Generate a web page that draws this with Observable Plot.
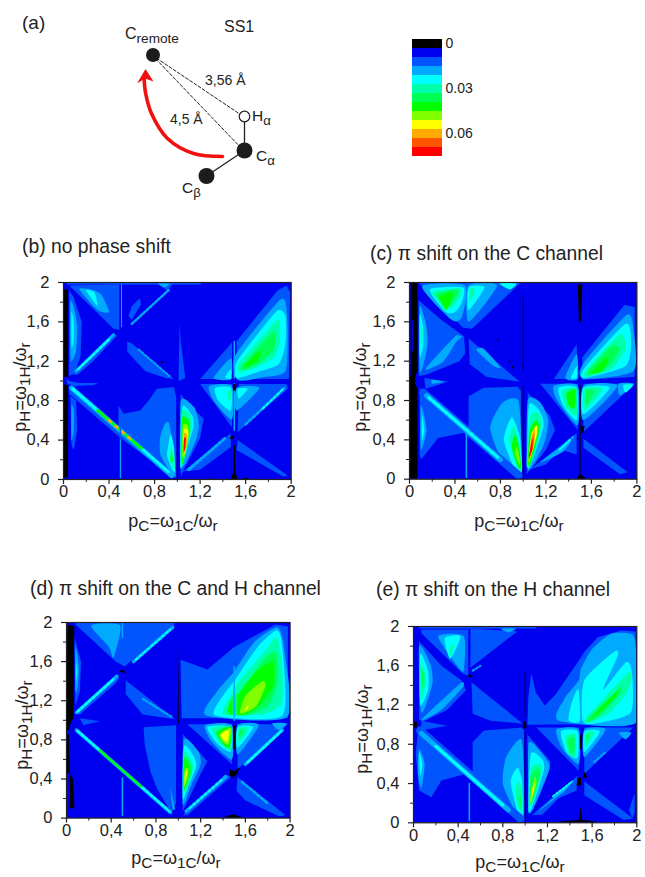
<!DOCTYPE html>
<html><head><meta charset="utf-8">
<script src="https://cdn.jsdelivr.net/npm/d3@7"></script>
<script src="https://cdn.jsdelivr.net/npm/@observablehq/plot@0.6"></script>
<style>
html,body{margin:0;padding:0;background:#fff}
#page{position:relative;width:645px;height:877px;overflow:hidden;font-family:"Liberation Sans",Arial,sans-serif;color:#222}
#page svg{position:absolute;background:transparent;overflow:visible}
#page svg text{font-size:16.5px}
#page svg.legend text{font-size:14px}
.t{position:absolute;white-space:nowrap;line-height:1}
.t sub{font-size:.85em;vertical-align:baseline;position:relative;top:.28em;line-height:0}
</style></head><body><div id="page"></div>
<script>
const palette=["#000000","#0000f0","#0055ff","#00aaff","#00ffff","#00ffaa","#00ff55","#00ff00","#80ff00","#ffff00","#ffaa00","#ff5500","#ff0000"];
const legendValues=[0,0.006,0.012,0.018,0.024,0.03,0.036,0.042,0.048,0.054,0.06,0.066,0.072];
const legendLabels=[0,0.03,0.06];
const majorTicks=[0,0.4,0.8,1.2,1.6,2];
const minorTicks=[0.2,0.6,1,1.4,1.8];

/* contour bands: [level, [x,y, x,y, ...]] in (pC, pH) */
const bandsB=[
[2,[.03,2,1.22,2,1.2,1.98,.03,1.98]],
[2,[.05,1.97,.44,1.53,.49,1.52,.49,1.98]],
[3,[.14,1.93,.24,1.93,.33,1.88,.4,1.7,.3,1.72]],
[4,[.2,1.92,.27,1.9,.3,1.76]],
[2,[.82,1.99,.97,1.99,.91,1.92]],
[3,[.83,1.99,.93,1.99,.89,1.95]],
[2,[.57,1.66,.6,1.76,.67,1.84,.68,1.78,.6,1.62]],
[2,[.05,1.92,.09,1.85,.16,1.6,.15,1.25,.1,1.08,.05,1.05]],
[3,[.06,1.8,.09,1.75,.12,1.55,.11,1.3,.07,1.2,.06,1.3]],
[4,[.07,1.7,.09,1.6,.09,1.4,.07,1.35]],
[2,[.07,1.07,.44,1.48,.47,1.46,.26,1.2,.12,1.06]],
[2,[.56,1.4,.6,1.38,.97,1.02,.9,1.03,.72,1.1,.62,1.22,.56,1.3]],
[2,[.02,1.02,.05,1,.13,.98,.3,.98,.27,.96,.1,.95,.04,.97]],
[2,[.05,.95,.5,.5,.48,.5,.484,.75,.527,.667,.674,.7,.76,.82,.82,.92,.97,.94,.99,.83,.99,.02,.97,.02,.5,.42,.05,.87]],
[2,[.06,.85,.11,.8,.12,.5,.09,.3,.07,.35]],
[3,[.07,.75,.09,.7,.09,.5,.07,.4]],
[3,[.85,.43,.89,.56,.93,.56,.98,.16,.98,.03,.93,.09,.85,.26]],
[4,[.91,.26,.94,.46,.97,.33,.98,.09,.96,.09,.92,.2]],
[5,[.93,.2,.945,.35,.965,.25,.975,.12,.96,.12]],
[7,[.94,.2,.95,.28,.965,.18]],
[2,[1.03,.87,1.1,.75,1.23,.62,1.2,.42,1.1,.2,1.03,.03,1.02,.3]],
[3,[1.03,.8,1.15,.73,1.19,.56,1.16,.39,1.04,.13]],
[4,[1.05,.75,1.13,.65,1.14,.53,1.08,.29,1.03,.11,1.03,.5]],
[5,[1.04,.68,1.1,.68,1.13,.58,1.1,.38,1.03,.13]],
[7,[1.04,.62,1.1,.6,1.11,.5,1.08,.33,1.04,.16]],
[8,[1.05,.55,1.09,.55,1.1,.45,1.06,.22,1.045,.3]],
[9,[1.055,.5,1.09,.5,1.09,.42,1.05,.22]],
[10,[1.06,.47,1.085,.45,1.08,.35,1.05,.25]],
[12,[1.06,.42,1.075,.42,1.07,.32,1.055,.28]],
[2,[1.01,1,1.02,1.58,1.03,1.4,1.07,1.03]],
[2,[1.2,1.02,1.48,1.39,1.48,1.02]],
[3,[1.32,1.03,1.47,1.23,1.47,1.02]],
[4,[1.42,1.04,1.47,1.12,1.47,1.02]],
[2,[1.52,1.4,1.88,1.92,1.96,1.97,1.99,1.9,1.98,1.02,1.53,1.02]],
[3,[1.51,1.26,1.88,1.8,1.95,1.8,1.97,1.5,1.95,1.1,1.76,1.04,1.53,1.01]],
[4,[1.52,1.19,1.79,1.6,1.89,1.72,1.95,1.66,1.95,1.38,1.89,1.17,1.7,1.09,1.52,1.03]],
[5,[1.54,1.17,1.79,1.51,1.89,1.62,1.9,1.4,1.85,1.24,1.7,1.14,1.55,1.09]],
[6,[1.57,1.16,1.79,1.44,1.86,1.5,1.85,1.33,1.73,1.19,1.58,1.11]],
[7,[1.58,1.14,1.73,1.31,1.7,1.2]],
[2,[1.2,.97,1.48,.97,1.48,.53]],
[3,[1.28,.95,1.48,.95,1.48,.61,1.32,.8]],
[4,[1.33,.93,1.47,.93,1.47,.7,1.36,.8]],
[5,[1.44,.9,1.47,.9,1.47,.8,1.44,.83]],
[2,[1.54,.97,1.96,.97,1.97,.92,1.53,.48]],
[3,[1.52,.93,1.72,.93,1.52,.7]],
[4,[1.53,.92,1.62,.92,1.54,.82]],
[2,[1.05,.08,1.47,.47,1.47,.33,1.2,.1]],
[2,[1.53,.4,1.97,.04,1.93,.03,1.52,.3]],
];
const stripesB=[
[3,5,"",[.07,.93,.95,.04]],[4,3,"3 2.5",[.08,.92,.3,.7]],[7,3,"3 2.5",[.3,.7,.7,.3]],[10,2.5,"2.5 6",[.4,.6,.6,.4]],[4,3,"3 2.5",[.7,.3,.92,.08]],
[3,3,"",[.11,1.1,.44,1.47]],[4,2.5,"2.5 2.5",[.13,1.12,.4,1.42]],
[3,2,"2 2",[.66,1.32,.93,1.05]],[3,2.5,"2 2",[.6,1.58,.93,1.93]],
[2,1.5,"",[.5,.02,.5,.65]],[3,1,"",[.5,.02,.5,.4]],[3,1,"",[.51,1.55,.51,1.98]],
[3,3,"2.5 2.5",[1.1,.1,1.42,.42]],[3,2.5,"2.5 2.5",[1.6,.56,1.94,.93]],[4,2,"2.5 2.5",[1.75,.72,1.93,.92]],
[3,1.5,"",[1.5,.5,1.5,.97]],[3,1.5,"",[1.5,1.03,1.5,1.4]],
];
const blackB=[
[0,[0,.02,.04,.02,.04,.95,0,.97]],[0,[0,1.04,.04,1.04,.04,1.93,0,1.93]],
[0,[1.47,.0,1.49,.07,1.495,.35,1.505,.35,1.51,.07,1.53,0]],[0,[1.46,.41,1.5,.41,1.48,.46]],
[0,[1.27,0,1.32,0,1.29,.012]],[0,[1.56,0,1.65,0,1.6,.02]],[0,[.996,0,1.004,0,1.004,.7,.996,.7]],[0,[.85,1.2,.88,1.2,.87,1.18]],[0,[1.49,.9,1.51,.9,1.51,.97,1.49,.97]],
];

const bandsC=[
[2,[.08,2,.47,1.54,.55,1.53,.97,1.99,.97,2]],
[3,[.11,1.96,.37,1.62,.46,1.65,.49,1.97]],
[4,[.18,1.93,.32,1.7,.4,1.7,.46,1.8,.47,1.95]],
[5,[.2,1.9,.32,1.75,.38,1.75,.44,1.85,.45,1.94]],
[6,[.23,1.88,.31,1.78,.36,1.78,.42,1.87,.42,1.93]],
[7,[.26,1.85,.32,1.72,.36,1.8,.38,1.9]],
[3,[.52,1.97,.52,1.6,.77,1.97]],
[4,[.52,1.95,.52,1.72,.66,1.95]],
[5,[.53,1.93,.53,1.8,.58,1.93]],
[4,[.79,1.99,.94,1.99,.88,1.93]],
[2,[.08,1.82,.27,1.63,.48,1.45,.49,1.28,.44,1.2,.14,1.06,.08,1.05]],
[3,[.09,1.75,.14,1.6,.16,1.4,.13,1.2,.09,1.1]],
[3,[.14,1.12,.4,1.45,.43,1.44,.3,1.2]],
[4,[.09,1.68,.12,1.55,.12,1.35,.09,1.25]],
[5,[.1,1.6,.115,1.5,.1,1.35]],
[2,[.52,1.43,.97,.99,.68,1.04,.53,1.17]],
[3,[.59,1.31,.65,1.33,.8,1.14,.74,1.15]],
[2,[.13,1.03,.34,.99,.14,.92]],
[3,[.2,1.01,.3,.99,.2,.97]],
[2,[.09,.93,.48,.55,.47,.47,.25,.42,.17,.3,.1,.2,.09,.25]],
[3,[.1,.75,.15,.5,.1,.3]],
[4,[.11,.65,.13,.5,.11,.4]],
[2,[.52,.84,.65,.93,.95,.94,.98,.9,.98,.03,.52,.48]],
[3,[.71,.53,.82,.78,.96,.79,.99,.16,.97,.05,.8,.23]],
[4,[.83,.4,.9,.63,.97,.43,.99,.09,.93,.09]],
[5,[.88,.38,.91,.54,.96,.38,.985,.1,.96,.1]],
[7,[.9,.33,.93,.45,.965,.3,.98,.12,.95,.13]],
[8,[.93,.26,.945,.33,.97,.2,.97,.14]],
[2,[1.04,.88,1.23,.65,1.28,.5,1.2,.3,1.03,.05]],
[3,[1.04,.8,1.15,.78,1.22,.6,1.18,.35,1.04,.1]],
[4,[1.05,.75,1.14,.7,1.18,.55,1.1,.25,1.04,.12]],
[5,[1.06,.62,1.13,.68,1.16,.55,1.08,.2,1.03,.14]],
[7,[1.06,.5,1.12,.6,1.14,.5,1.07,.18,1.04,.15]],
[9,[1.07,.45,1.12,.55,1.12,.45,1.05,.17]],
[10,[1.07,.4,1.1,.52,1.1,.4,1.05,.18]],
[11,[1.07,.35,1.09,.47,1.09,.35,1.05,.2]],
[12,[1.06,.3,1.08,.42,1.08,.3,1.05,.22]],
[2,[1.52,1.24,1.89,1.77,1.98,1.75,1.98,1.04,1.52,1.01]],
[3,[1.53,1.18,1.91,1.67,1.97,1.52,1.97,1.1,1.53,1.02]],
[4,[1.54,1.13,1.9,1.58,1.95,1.4,1.9,1.15,1.54,1.03]],
[5,[1.55,1.1,1.85,1.47,1.9,1.32,1.78,1.12,1.56,1.04]],
[6,[1.57,1.1,1.77,1.35,1.85,1.33,1.75,1.15,1.58,1.06]],
[7,[1.59,1.08,1.75,1.25,1.7,1.1]],
[2,[1.27,1.02,1.47,1.37,1.48,1.02]],
[3,[1.37,1.03,1.47,1.27,1.48,1.02]],
[4,[1.42,1.03,1.47,1.15,1.47,1.03]],
[2,[1.15,.97,1.48,.97,1.48,.5]],
[3,[1.27,.95,1.48,.95,1.48,.55,1.3,.8]],
[4,[1.31,.93,1.47,.93,1.47,.6,1.35,.75]],
[5,[1.34,.9,1.47,.92,1.47,.65,1.38,.72]],
[7,[1.38,.87,1.46,.91,1.45,.72,1.4,.75]],
[2,[1.53,.97,1.98,.97,1.53,.48]],
[3,[1.53,.95,1.83,.95,1.53,.6]],
[4,[1.53,.93,1.76,.93,1.53,.66]],
[5,[1.54,.92,1.7,.92,1.54,.7]],
[6,[1.55,.9,1.63,.9,1.55,.75]],
[3,[1.84,.97,1.97,.97,1.85,.85]],
[4,[1.88,.96,1.97,.96,1.9,.88]],
[2,[1.06,.1,1.47,.47,1.47,.25,1.33,.3,1.2,.15]],
[3,[1.15,.17,1.42,.4,1.35,.28]],
[2,[1.53,.41,1.92,.07,1.85,.05,1.53,.32]],
];
const stripesC=[
[2,8,"",[.12,.88,.96,.04]],[3,5,"",[.15,.85,.8,.2]],[4,3,"3 2.5",[.17,.83,.78,.22]],
[3,1.5,"",[.5,.02,.5,.48]],[3,2,"2 2",[1.3,.28,1.44,.43]],[4,2,"2 2",[1.32,.3,1.42,.41]],
[3,2,"2 2",[.45,1.45,.27,1.27]],
];
const blackC=[
[0,[0,0,.07,0,.07,.92,.05,.97,.05,1.05,.07,1.1,.07,2,.01,2,.01,1.05,0,1.03]],
[0,[.996,.03,1.004,.03,1.004,.95,.996,.95]],[0,[.996,1.1,1.004,1.1,1.004,1.85,.996,1.85]],
[0,[1.47,0,1.495,.05,1.495,.95,1.505,.95,1.505,.05,1.56,0]],
[0,[1.49,1.6,1.51,1.6,1.52,1.98,1.48,1.98]],[0,[1.51,.47,1.53,.47,1.54,.54,1.51,.54]],
[0,[.87,1.2,.89,1.2,.88,1.17]],[0,[.77,1.42,.79,1.42,.78,1.4]],[0,[.9,1.15,.92,1.15,.91,1.12]],[0,[1.47,.42,1.49,.42,1.48,.4]],
];
const slitC=[[1,[.02,1.3,.03,1.3,.03,1.62,.02,1.62]]];

const bandsD=[
[2,[.08,2,.08,1.98,.44,1.6,.52,1.55,.96,1.97,.97,2]],
[3,[.22,1.97,.38,1.75,.42,1.64,.48,1.97]],
[2,[.07,1.85,.13,1.6,.12,1.3,.08,1.15]],
[3,[.08,1.75,.11,1.55,.1,1.35,.08,1.3]],
[4,[.085,1.6,.095,1.5,.085,1.4]],
[2,[.07,1.07,.45,1.47,.47,1.43,.44,1.38,.12,1.06]],
[2,[.53,1.41,.97,1.01,.68,1.06,.53,1.27]],
[2,[.12,1.02,.3,.99,.15,.95]],
[2,[.69,.93,.98,.95,.98,.15,.94,.05,.81,.3,.75,.48,.7,.75]],
[3,[.93,.3,.97,.1,.95,.1]],
[2,[.08,.92,.5,.5,.95,.04,.92,.04,.08,.88]],
[2,[1.04,.86,1.26,.58,1.2,.45,1.04,.07]],
[3,[1.05,.8,1.18,.68,1.2,.55,1.12,.35,1.04,.14]],
[4,[1.05,.73,1.13,.65,1.16,.53,1.08,.3,1.04,.2]],
[5,[1.05,.67,1.11,.61,1.13,.5,1.06,.25]],
[6,[1.05,.62,1.1,.58,1.12,.48,1.05,.28]],
[7,[1.05,.6,1.09,.55,1.1,.45,1.05,.3]],
[8,[1.06,.5,1.09,.5,1.08,.4,1.05,.32]],
[9,[1.06,.47,1.08,.48,1.06,.36]],
[2,[1.04,.03,1.44,.44,1.47,.42,1.08,.03]],
[2,[1.53,.42,1.96,.03,1.9,.02,1.6,.18,1.52,.28]],
[2,[1.02,1.62,1.26,1.52,1.5,1.75,1.87,1.98,1.98,1.96,1.98,1.02,1.03,1.02]],
[3,[1.25,1.05,1.35,1.3,1.5,1.5,1.68,1.8,1.89,1.95,1.95,1.7,1.97,1.03]],
[4,[1.33,1.05,1.41,1.27,1.5,1.4,1.71,1.75,1.88,1.92,1.93,1.75,1.93,1.05]],
[5,[1.4,1.06,1.48,1.27,1.5,1.34,1.77,1.7,1.88,1.85,1.93,1.55,1.92,1.17,1.75,1.06]],
[6,[1.44,1.08,1.49,1.25,1.56,1.3,1.75,1.6,1.87,1.7,1.89,1.4,1.8,1.15,1.6,1.05]],
[7,[1.53,1.07,1.54,1.27,1.7,1.5,1.85,1.6,1.85,1.35,1.72,1.15,1.6,1.06]],
[7,[1.44,1.1,1.48,1.22,1.48,1.06]],
[8,[1.55,1.08,1.6,1.25,1.75,1.4,1.78,1.35,1.7,1.15,1.6,1.08]],
[9,[1.6,1.12,1.63,1.15,1.61,1.1]],
[2,[1.08,.96,1.48,.96,1.48,.55]],
[3,[1.24,.95,1.48,.95,1.48,.6,1.3,.78]],
[4,[1.26,.93,1.47,.93,1.47,.68,1.35,.76]],
[5,[1.3,.92,1.47,.93,1.47,.7,1.38,.75]],
[7,[1.34,.88,1.47,.93,1.46,.72,1.4,.76]],
[8,[1.37,.86,1.47,.92,1.45,.75,1.4,.78]],
[9,[1.38,.85,1.45,.9,1.44,.78,1.41,.8]],
[2,[1.53,.96,1.98,.96,1.53,.5]],
[3,[1.53,.95,1.72,.95,1.53,.65]],
[4,[1.53,.93,1.67,.93,1.53,.72]],
[5,[1.54,.92,1.63,.92,1.54,.77]],
[6,[1.55,.9,1.59,.9,1.55,.82]],
[3,[1.84,.97,1.97,.97,1.9,.9]],
];
const stripesD=[
[3,3.5,"",[.09,.9,.93,.06]],[4,2.5,"2.5 2.5",[.1,.89,.3,.69]],[7,2.5,"2.5 2.5",[.3,.69,.68,.31]],[4,2.5,"2.5 2.5",[.68,.31,.92,.07]],
[3,3.5,"",[.09,1.08,.45,1.45]],[4,2.5,"2.5 2.5",[.1,1.09,.42,1.42]],
[3,3.5,"2.5 2.5",[.6,1.6,.95,1.95]],[4,2,"2.5 2.5",[.62,1.62,.93,1.93]],
[3,2,"2 2",[.68,1.22,.95,1.03]],
[3,1.5,"",[.5,.03,.5,.41]],[3,1.5,"",[.5,1.85,.5,2]],
[3,3.5,"2.5 2.5",[1.07,.07,1.43,.43]],[4,2,"2.5 2.5",[1.1,.1,1.4,.4]],
[3,2.5,"2.5 2.5",[1.57,.37,1.8,.15]],
[3,3.5,"",[1.6,.55,1.93,.9]],[4,2.5,"2.5 2.5",[1.62,.57,1.92,.89]],
[3,1.5,"",[1.5,1,1.5,1.55]],
];
const blackD=[
[0,[.01,1.95,.02,1.98,.07,1.96,.06,1.02,.04,.98,.02,.9,.0,.9,0,1.02]],
[0,[0,.47,.03,.45,.02,.85,0,.85]],[0,[.03,.1,.07,.1,.06,.4,.03,.45]],
[0,[1.46,.5,1.5,.48,1.55,.52,1.52,.44,1.48,.41,1.46,.44]],[0,[.47,1.5,.54,1.48,.5,1.52]],
[0,[.995,.97,1.005,.97,1,1.75]],[0,[1.49,.7,1.51,.7,1.51,.95,1.49,.95]],
[0,[1.2,0,1.33,0,1.27,.01]],[0,[1.38,0,1.6,0,1.49,.04]],
];

const bandsE=[
[2,[.05,2,1.1,2,1.1,1.98,.05,1.98]],
[2,[.07,1.93,.44,1.52,.49,1.5,.49,1.97,.07,1.97]],
[3,[.22,1.9,.39,1.6,.45,1.55,.45,1.9]],
[4,[.28,1.88,.33,1.67,.42,1.9]],
[5,[.32,1.78,.33,1.7,.36,1.82]],
[2,[.51,1.98,.51,1.58,.93,1.95]],
[3,[.78,1.98,.92,1.98,.85,1.94]],
[2,[.05,1.85,.25,1.6,.43,1.45,.47,1.35,.3,1.15,.08,1.03,.05,1.05]],
[3,[.05,1.8,.15,1.62,.17,1.42,.07,1.12]],
[4,[.06,1.72,.13,1.55,.13,1.35,.06,1.2]],
[5,[.06,1.62,.11,1.5,.1,1.35,.07,1.25]],
[6,[.07,1.58,.09,1.5,.08,1.38]],
[3,[.07,1.05,.42,1.42,.44,1.38,.25,1.15]],
[2,[.52,1.43,.98,1.01,.69,1.04,.53,1.11]],
[2,[.07,1.04,.3,.99,.07,.94]],
[2,[.04,.94,.47,.5,.25,.43,.16,.26,.05,.33,.02,.7]],
[3,[.05,.75,.1,.6,.07,.35,.04,.5]],
[4,[.05,.72,.08,.6,.06,.48]],
[2,[.53,.82,.63,.94,.97,.97,.99,.94,.99,.05,.53,.5]],
[3,[.8,.4,.83,.67,.97,.84,.99,.06,.9,.14]],
[4,[.87,.42,.93,.56,.97,.44,.98,.1,.93,.12]],
[5,[.91,.35,.95,.42,.975,.25,.97,.1,.94,.15]],
[6,[.94,.25,.96,.28,.97,.12]],
[2,[1.02,.9,1.23,.62,1.2,.5,1.14,.3,1.03,.09]],
[3,[1.03,.8,1.12,.75,1.22,.58,1.16,.38,1.04,.1]],
[4,[1.05,.7,1.15,.65,1.17,.55,1.1,.28,1.03,.11]],
[5,[1.05,.55,1.13,.6,1.15,.52,1.05,.15]],
[6,[1.05,.47,1.12,.56,1.13,.47,1.04,.17]],
[8,[1.05,.3,1.09,.47,1.1,.4,1.05,.2]],
[9,[1.06,.3,1.08,.42,1.08,.35,1.05,.22]],
[10,[1.06,.28,1.07,.36,1.06,.3]],
[2,[1.02,1,1.03,1.3,1.056,1.52,1.095,1.33,1.176,1.195,1.274,1.31,1.49,1.67,1.53,1.74,1.65,1.89,1.86,1.96,1.99,1.95,1.99,1.01]],
[3,[1.3,1.04,1.35,1.26,1.48,1.45,1.5,1.57,1.6,1.77,1.77,1.925,1.95,1.925,1.99,1.8,1.99,1.02]],
[4,[1.52,1.03,1.53,1.45,1.8,1.745,1.83,1.705,1.71,1.4,1.71,1.365,1.91,1.64,1.96,1.5,1.95,1.13,1.71,1.03]],
[4,[1.39,1.04,1.41,1.195,1.475,1.365,1.49,1.04]],
[5,[1.54,1.06,1.93,1.535,1.93,1.365,1.77,1.13,1.59,1.03]],
[6,[1.56,1.06,1.86,1.38,1.84,1.3,1.71,1.14,1.6,1.04]],
[7,[1.6,1.08,1.83,1.35,1.8,1.28,1.68,1.14]],
[2,[1.1,.97,1.48,.97,1.48,.53]],
[3,[1.28,.95,1.48,.95,1.48,.6,1.33,.76]],
[4,[1.32,.93,1.47,.93,1.47,.66,1.37,.72]],
[5,[1.36,.88,1.45,.9,1.45,.68,1.39,.7]],
[6,[1.38,.85,1.44,.87,1.44,.72,1.4,.72]],
[2,[1.53,.97,1.97,.97,1.53,.5]],
[3,[1.53,.95,1.72,.95,1.53,.67]],
[4,[1.53,.93,1.67,.93,1.53,.72]],
[5,[1.54,.92,1.62,.92,1.54,.78]],
[6,[1.55,.9,1.58,.9,1.55,.83]],
[3,[1.84,.92,1.95,.92,1.9,.85]],
[2,[1.06,.08,1.47,.48,1.46,.33,1.3,.25,1.15,.08]],
[3,[1.12,.12,1.4,.4,1.35,.32]],
[2,[1.53,.42,1.97,.04,1.88,.03,1.53,.28]],
[2,[1.93,.13,1.98,.3,1.98,.1,1.96,.05]],
];
const stripesE=[
[2,8,"",[.06,.94,.96,.04]],[3,5,"",[.07,.91,.85,.13]],[4,3,"3 2.5",[.2,.78,.8,.18]],
[3,1.5,"",[.5,.02,.5,.4]],
[3,2,"2 2",[.53,1.55,.6,1.6]],
[4,2,"2 2",[1.25,.27,1.42,.42]],[3,2,"2 2",[1.62,.62,1.72,.72]],
];
const blackE=[
[0,[0,.97,.03,.97,.03,1.03,0,1.03]],[0,[.98,.96,1.01,.96,1.01,1.03,.98,1.03]],
[0,[.49,1.49,.54,1.48,.5,1.52]],[0,[1.46,.38,1.5,.38,1.5,.46,1.47,.46]],[0,[1.52,.46,1.56,.46,1.53,.52]],
[0,[1.49,.75,1.51,.75,1.51,.9,1.49,.9]],[0,[1.485,.03,1.495,.15,1.5,.15,1.51,.03,1.7,0,1.2,0]],
[0,[.996,.02,1.004,.02,1.004,.93,.996,.93]],[0,[.996,1.07,1.004,1.07,1.004,1.55,.996,1.55]],
];

/* molecule schematic, in the schematic's own units */
const atomsFilled=[{x:152.5,y:54.5,r:7},{x:244,y:150,r:8},{x:206,y:175.5,r:8}];
const atomOpen=[{x:244,y:116}];
const bonds=[[244,116,244,150],[244,150,206,175.5]];
const distances=[[152,55,243,116],[152,55,243,150]];
const transferArc=[[222,156],[193,153],[167,138],[151,113],[145,92],[143.5,76]];
const transferHead=[[145,68.5],[136.5,83],[144.5,78],[153,81]];

const page=document.getElementById("page");
function text(html,x,y,size,opt={}){
  const d=document.createElement("div");d.className="t";d.innerHTML=html;
  d.style.left=x+"px";d.style.top=y+"px";d.style.fontSize=size+"px";
  d.style.transform=opt.transform||"translateY(-50%)";page.appendChild(d);return d;
}
function place(svg,left,top){svg.style.left=left+"px";svg.style.top=top+"px";page.appendChild(svg);}
const fmt=d=>String(d).replace(".",",");
const rows=f=>{const r=[];for(let i=0;i<f.length;i+=2)r.push({x:f[i],y:f[i+1]});return r;};
function panel(bands,stripes,blacks,x0,x1,yTop,yBot,extra=[]){
  const mL=52,mR=12,mT=8,mB=28;
  const marks=[Plot.frame({fill:palette[1],stroke:"none"})];
  for(const [lev,f] of bands)
    marks.push(Plot.line(rows(f),{x:"x",y:"y",fill:palette[lev],stroke:"none",
      curve:lev>=3?"cardinal-closed":"linear-closed",tension:0.35,clip:true}));
  for(const [lev,w,dash,f] of stripes)
    marks.push(Plot.line(rows(f),{x:"x",y:"y",stroke:palette[lev],strokeWidth:w,strokeDasharray:dash||undefined,clip:true}));
  for(const [lev,f] of blacks.concat(extra))
    marks.push(Plot.line(rows(f),{x:"x",y:"y",fill:palette[lev],stroke:"none",curve:"linear-closed",clip:true}));
  marks.push(Plot.frame({stroke:"#222",strokeWidth:1.2}));
  const axis={tickFormat:fmt,stroke:"#222",strokeWidth:1.2};
  marks.push(
    Plot.axisX({ticks:majorTicks,tickSize:5,tickPadding:1,label:null,...axis}),
    Plot.axisX({ticks:minorTicks,tickSize:3,tickFormat:()=>"",label:null,stroke:"#222"}),
    Plot.axisY({ticks:majorTicks,tickSize:5,tickPadding:9,label:null,...axis}),
    Plot.axisY({ticks:minorTicks,tickSize:3,tickFormat:()=>"",label:null,stroke:"#222"}));
  const svg=Plot.plot({width:x1-x0+mL+mR,height:yBot-yTop+mT+mB,marginLeft:mL,marginRight:mR,marginTop:mT,marginBottom:mB,
    x:{domain:[0,2]},y:{domain:[0,2]},style:{fontFamily:'"Liberation Sans",Arial,sans-serif',color:"#222",background:"transparent"},marks});
  place(svg,x0-mL,yTop-mT);
}
const xLab='p<sub>C</sub>=ω<sub>1C</sub>/ω<sub>r</sub>';
const yLab='p<sub>H</sub>=ω<sub>1H</sub>/ω<sub>r</sub>';
function labels(xc,xy,yx,yc){
  text(xLab,xc,xy,18,{transform:"translate(-50%,-50%)"});
  text(yLab,yx,yc,18,{transform:"translate(-50%,-50%) rotate(-90deg)"});
}

/* schematic */
place(Plot.plot({width:480,height:200,margin:0,x:{domain:[0,480],axis:null},y:{domain:[200,0],axis:null},
  style:{background:"transparent"},marks:[
  ...distances.map(d=>Plot.line(rows(d),{x:"x",y:"y",stroke:"#222",strokeWidth:1,strokeDasharray:"3 2"})),
  ...bonds.map(d=>Plot.line(rows(d),{x:"x",y:"y",stroke:"#222",strokeWidth:1.3})),
  Plot.line(transferArc,{x:d=>d[0],y:d=>d[1],stroke:"#f01010",strokeWidth:3.6,curve:"catmull-rom"}),
  Plot.line(transferHead,{x:d=>d[0],y:d=>d[1],fill:"#f01010",stroke:"none",curve:"linear-closed"}),
  Plot.dot(atomsFilled,{x:"x",y:"y",r:"r",fill:"#1c1c1c",stroke:"none"}),
  Plot.dot(atomOpen,{x:"x",y:"y",r:5.3,fill:"white",stroke:"#222",strokeWidth:1.2}),
 ],r:{type:"identity"}}),0,0);
text("(a)",22,22,19);
text("SS1",224,27,16);
text('C<sub>remote</sub>',125,34,16);
text("3,56 Å",205,80,14);
text("4,5 Å",170,119,14);
text('H<sub>α</sub>',252,116,15.5);
text('C<sub>α</sub>',256,156,15.5);
text('C<sub>β</sub>',182,188,15.5);

/* legend */
const legend=Plot.plot({width:100,height:120,marginLeft:0,marginRight:70,marginTop:0,marginBottom:0,
  x:{axis:null,domain:[0,1]},y:{type:"band",domain:legendValues,padding:0},
  style:{fontFamily:'"Liberation Sans",Arial,sans-serif',color:"#222",background:"transparent"},
  marks:[
   Plot.rect(legendValues,{x1:0,x2:1,y:d=>d,fill:(d,i)=>palette[i]}),
   Plot.axisY({anchor:"right",ticks:legendLabels,tickSize:0,tickPadding:3,tickFormat:d=>String(d),label:null})
  ]});
legend.classList.add("legend");
place(legend,412,37);

panel(bandsB,stripesB,blackB,63.3,291,282,479);
panel(bandsC,stripesC,blackC,409.3,636.7,282.3,479,slitC);
panel(bandsD,stripesD,blackD,65.7,289.3,621.7,817.3);
panel(bandsE,stripesE,blackE,412.7,636,626,822.3);
labels(173,521,20,387);labels(519,521,360,387);labels(176,858,22,725);labels(520,862,362,729);

text("(b) no phase shift",22,247,19.3);
text("(c) π shift on the C channel",370,254,19.3);
text("(d) π shift on the C and H channel",30,589,19.3);
text("(e) π shift on the H channel",376,590,19.3);
</script></body></html>
